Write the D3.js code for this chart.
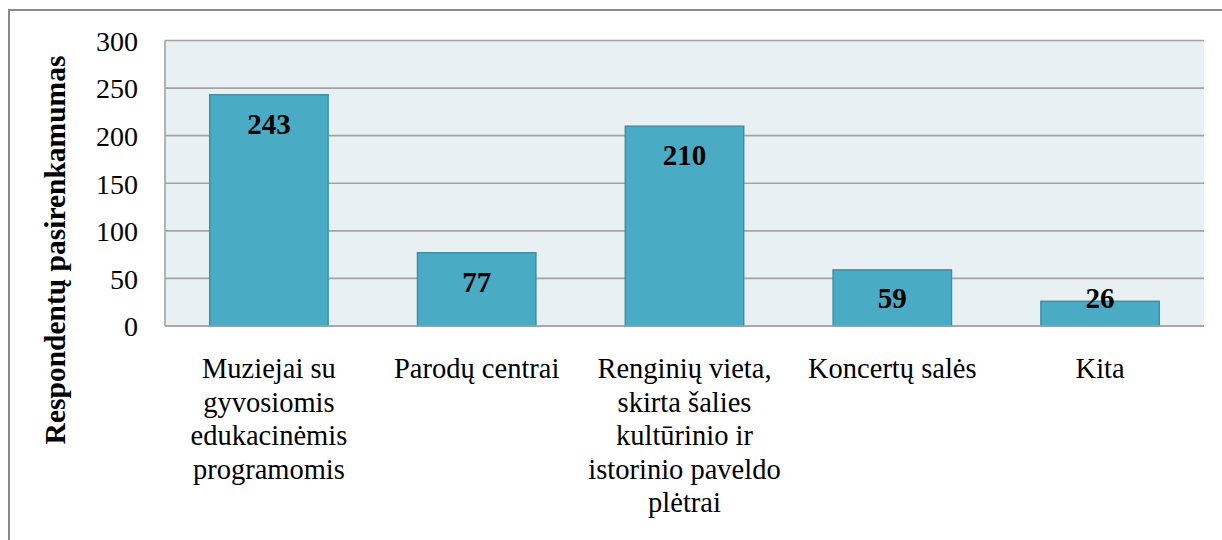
<!DOCTYPE html>
<html>
<head>
<meta charset="utf-8">
<script src="https://cdn.jsdelivr.net/npm/d3@7"></script>
<style>
  html, body { margin: 0; padding: 0; background: #ffffff; }
  svg { display: block; }
</style>
</head>
<body>
<svg id="chart" width="1222" height="540"></svg>
<script>
const categories = [
  "Muziejai su\ngyvosiomis\nedukacinėmis\nprogramomis",
  "Parodų centrai",
  "Renginių vieta,\nskirta šalies\nkultūrinio ir\nistorinio paveldo\nplėtrai",
  "Koncertų salės",
  "Kita"
];
const values = [243, 77, 210, 59, 26];
const yTicks = [0, 50, 100, 150, 200, 250, 300];
const yTitle = "Respondentų pasirenkamumas";

const svg = d3.select("#chart");
const font = "'Liberation Serif', 'Times New Roman', serif";

// outer frame
svg.append("rect")
  .attr("x", 9).attr("y", 10)
  .attr("width", 1230).attr("height", 560)
  .attr("fill", "#ffffff")
  .attr("stroke", "#8a8a8a").attr("stroke-width", 2);

const plot = { left: 165, right: 1204, top: 40.5, bottom: 326 };

const x = d3.scaleBand()
  .domain(categories)
  .range([plot.left, plot.right])
  .paddingInner(0.43)
  .paddingOuter(0.215);

const y = d3.scaleLinear()
  .domain([0, 300])
  .range([plot.bottom, plot.top]);

// plot background
svg.append("rect")
  .attr("x", plot.left).attr("y", plot.top)
  .attr("width", plot.right - plot.left).attr("height", plot.bottom - plot.top)
  .attr("fill", "#e9f0f3");

// gridlines
svg.append("g")
  .selectAll("line")
  .data(yTicks)
  .join("line")
  .attr("x1", plot.left).attr("x2", plot.right)
  .attr("y1", d => y(d)).attr("y2", d => y(d))
  .attr("stroke", "#a3a3a3").attr("stroke-width", 1.6);

// left axis line
svg.append("line")
  .attr("x1", plot.left).attr("x2", plot.left)
  .attr("y1", plot.top).attr("y2", plot.bottom)
  .attr("stroke", "#a3a3a3").attr("stroke-width", 1.6);

// y axis labels
const yAxis = d3.axisLeft(y).tickValues(yTicks).tickSize(0).tickPadding(27);
const yg = svg.append("g").attr("transform", `translate(${plot.left},0)`).call(yAxis);
yg.select(".domain").remove();
yg.selectAll("text")
  .attr("font-family", font).attr("font-size", 28).attr("fill", "#000")
  .attr("dy", "0.35em");

// bars
svg.append("g")
  .selectAll("rect")
  .data(values)
  .join("rect")
  .attr("x", (d, i) => x(categories[i]))
  .attr("y", d => y(d))
  .attr("width", x.bandwidth())
  .attr("height", d => y(0) - y(d))
  .attr("fill", "#4aabc5")
  .attr("stroke", "#3a8ea6").attr("stroke-width", 1.4);

// bottom axis line
svg.append("line")
  .attr("x1", plot.left).attr("x2", plot.right)
  .attr("y1", y(0)).attr("y2", y(0))
  .attr("stroke", "#a3a3a3").attr("stroke-width", 1.6);

// data labels
svg.append("g")
  .selectAll("text")
  .data(values)
  .join("text")
  .attr("x", (d, i) => x(categories[i]) + x.bandwidth() / 2)
  .attr("y", d => Math.min(y(d) + 29, y(0) - 28))
  .attr("dy", "0.35em")
  .attr("text-anchor", "middle")
  .attr("font-family", font).attr("font-size", 29).attr("font-weight", "bold")
  .attr("fill", "#000")
  .text(d => d);

// category labels
const xg = svg.append("g");
categories.forEach(c => {
  const t = xg.append("text")
    .attr("x", x(c) + x.bandwidth() / 2)
    .attr("y", 378)
    .attr("text-anchor", "middle")
    .attr("font-family", font).attr("font-size", 28.5).attr("fill", "#000");
  c.split("\n").forEach((line, j) => {
    t.append("tspan")
      .attr("x", x(c) + x.bandwidth() / 2)
      .attr("y", 378 + j * 33.5)
      .text(line);
  });
});

// y title
svg.append("text")
  .attr("transform", `translate(65,250) rotate(-90)`)
  .attr("text-anchor", "middle")
  .attr("font-family", font).attr("font-size", 29.5).attr("font-weight", "bold")
  .attr("fill", "#000")
  .text(yTitle);
</script>
</body>
</html>
